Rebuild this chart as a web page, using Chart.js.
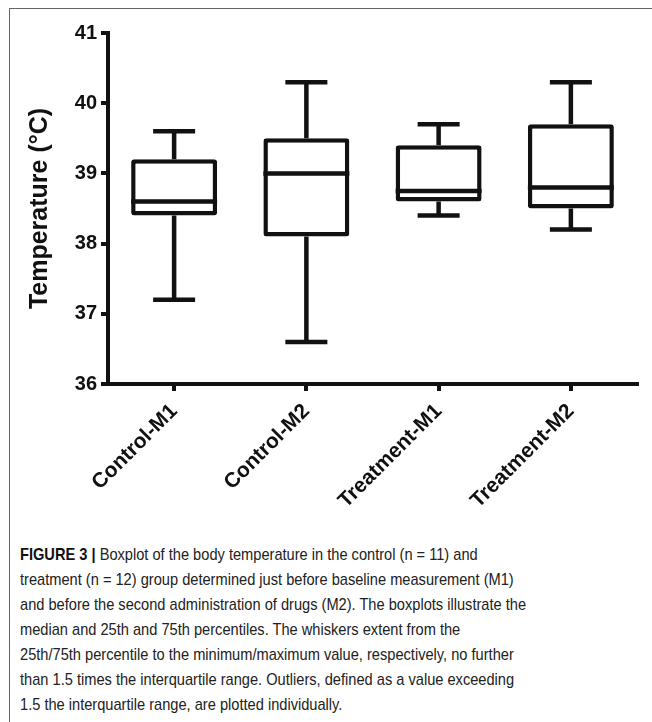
<!DOCTYPE html>
<html>
<head>
<meta charset="utf-8">
<script src="https://cdn.jsdelivr.net/npm/chart.js@4"></script>
<style>
  html, body { margin: 0; padding: 0; background: #fff; }
  body { width: 652px; height: 722px; position: relative; overflow: hidden; }
  .frame { position: absolute; left: 9px; top: 8px; right: 0; bottom: 0;
           border-top: 1px solid #666; border-left: 1px solid #666; }
  .chartBox { position: absolute; left: 10px; top: 9px; width: 642px; height: 520px; }
  .caption { position: absolute; left: 20px; top: 542px; width: 700px;
             font-family: "Liberation Sans", Arial, sans-serif;
             font-size: 17px; line-height: 25px; color: #222; white-space: nowrap;
             transform: scaleX(0.86); transform-origin: 0 0; }
  .caption b { color: #111; }
</style>
</head>
<body>
<div class="frame"></div>
<div class="chartBox"><canvas id="boxChart"></canvas></div>
<div class="caption">
  <b>FIGURE 3 |</b> Boxplot of the body temperature in the control (n = 11) and<br>
  treatment (n = 12) group determined just before baseline measurement (M1)<br>
  and before the second administration of drugs (M2). The boxplots illustrate the<br>
  median and 25th and 75th percentiles. The whiskers extent from the<br>
  25th/75th percentile to the minimum/maximum value, respectively, no further<br>
  than 1.5 times the interquartile range. Outliers, defined as a value exceeding<br>
  1.5 the interquartile range, are plotted individually.
</div>
<script>
// Dados
const categories = ['Control-M1', 'Control-M2', 'Treatment-M1', 'Treatment-M2'];
const whiskerMin = [37.2, 36.6, 38.4, 38.2];
const quartile1 = [38.4, 38.1, 38.6, 38.5];
const medians = [38.6, 39.0, 38.75, 38.8];
const quartile3 = [39.2, 39.5, 39.4, 39.7];
const whiskerMax = [39.6, 40.3, 39.7, 40.3];
const yMin = 36;
const yMax = 41;
const yStep = 1;

const ink = '#111';
const lineW = 4.5;
const fontFamily = '"Liberation Sans", Arial, sans-serif';

// Plugin que desenha bigodes e medianas usando as escalas do gráfico
const boxplotParts = {
    id: 'boxplotParts',
    beforeDatasetsDraw(chart) {
        const ctx = chart.ctx;
        const x = chart.scales.x;
        const y = chart.scales.y;
        ctx.save();
        ctx.strokeStyle = ink;
        ctx.lineWidth = lineW;
        ctx.lineCap = 'butt';
        categories.forEach(function (c, i) {
            const px = x.getPixelForValue(i);
            ctx.beginPath();
            ctx.moveTo(px, y.getPixelForValue(quartile3[i]));
            ctx.lineTo(px, y.getPixelForValue(whiskerMax[i]));
            ctx.moveTo(px, y.getPixelForValue(quartile1[i]));
            ctx.lineTo(px, y.getPixelForValue(whiskerMin[i]));
            ctx.stroke();
        });
        ctx.restore();
    },
    afterDatasetsDraw(chart) {
        const ctx = chart.ctx;
        const x = chart.scales.x;
        const y = chart.scales.y;
        const bars = chart.getDatasetMeta(0).data;
        const capHalf = 21;
        ctx.save();
        ctx.strokeStyle = ink;
        ctx.lineWidth = lineW;
        ctx.lineCap = 'butt';
        categories.forEach(function (c, i) {
            const px = x.getPixelForValue(i);
            const half = bars[i].width / 2;
            const top = y.getPixelForValue(whiskerMax[i]);
            const bottom = y.getPixelForValue(whiskerMin[i]);
            const med = y.getPixelForValue(medians[i]);
            ctx.beginPath();
            ctx.moveTo(px - capHalf, top);
            ctx.lineTo(px + capHalf, top);
            ctx.moveTo(px - capHalf, bottom);
            ctx.lineTo(px + capHalf, bottom);
            ctx.moveTo(px - half, med);
            ctx.lineTo(px + half, med);
            ctx.stroke();
        });
        ctx.restore();
    }
};

const boxData = categories.map(function (c, i) { return [quartile1[i], quartile3[i]]; });

new Chart(document.getElementById('boxChart'), {
    type: 'bar',
    data: {
        labels: categories,
        datasets: [{
            data: boxData,
            backgroundColor: '#fff',
            borderColor: ink,
            borderWidth: lineW,
            borderRadius: 3,
            borderSkipped: false,
            barPercentage: 0.65,
            categoryPercentage: 1
        }]
    },
    options: {
        responsive: true,
        maintainAspectRatio: false,
        animation: false,
        events: [],
        layout: { padding: { left: 0, top: 24, right: 15, bottom: 0 } },
        plugins: {
            legend: { display: false },
            tooltip: { enabled: false }
        },
        scales: {
            x: {
                offset: true,
                grid: {
                    offset: false,
                    drawOnChartArea: false,
                    drawTicks: true,
                    tickLength: 7,
                    lineWidth: 4,
                    color: ink
                },
                border: { display: true, color: ink, width: 4 },
                ticks: {
                    color: ink,
                    minRotation: 45,
                    maxRotation: 45,
                    padding: 8,
                    autoSkip: false,
                    font: { family: fontFamily, weight: 'bold', size: 21 }
                },
                afterFit(scale) { scale.height = 145; }
            },
            y: {
                min: yMin,
                max: yMax,
                grid: {
                    drawOnChartArea: false,
                    drawTicks: true,
                    tickLength: 7,
                    lineWidth: 4,
                    color: ink
                },
                border: { display: true, color: ink, width: 4 },
                ticks: {
                    stepSize: yStep,
                    color: ink,
                    padding: 4,
                    font: { family: fontFamily, weight: 'bold', size: 20 }
                },
                title: {
                    display: true,
                    text: 'Temperature (°C)',
                    color: ink,
                    padding: { top: 15, bottom: 0 },
                    font: { family: fontFamily, weight: 'bold', size: 25 }
                },
                afterFit(scale) { scale.width = 98; }
            }
        }
    },
    plugins: [boxplotParts]
});
</script>
</body>
</html>
